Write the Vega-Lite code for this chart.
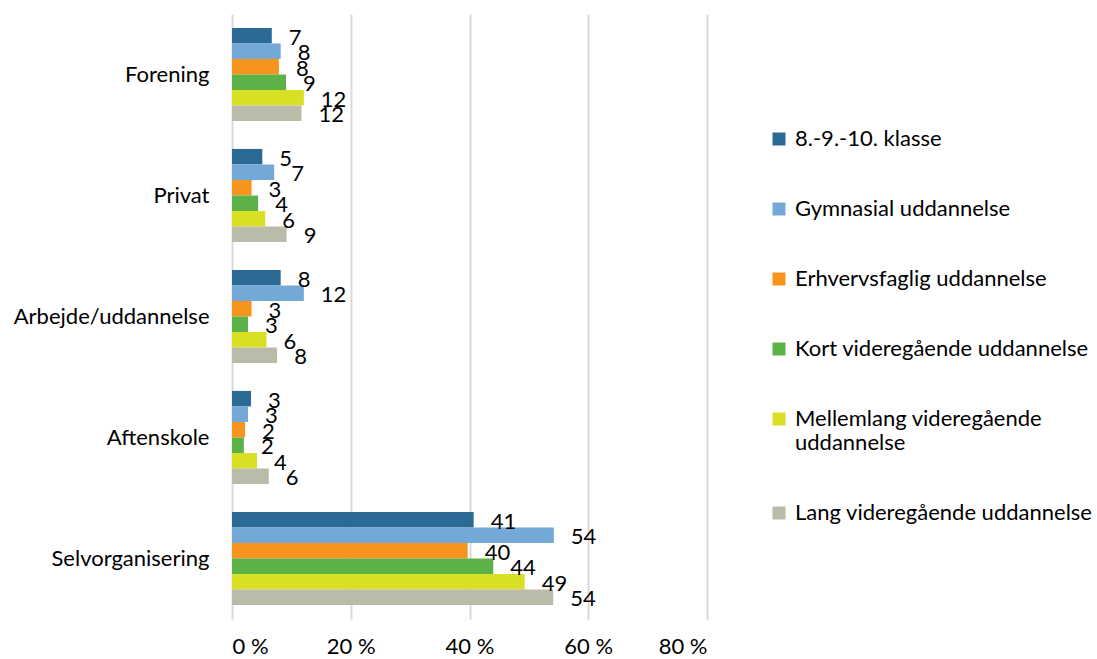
{
  "$schema": "https://vega.github.io/schema/vega-lite/v6.json",
  "autosize": "none",
  "width": 475,
  "height": 605,
  "padding": {"left": 232, "top": 14, "right": 390, "bottom": 40},
  "background": "white",
  "config": {
    "font": "Lato",
    "view": {"stroke": null},
    "axis": {"labelFont": "Lato", "labelColor": "#000000", "labelFontSize": 22},
    "legend": {"labelFont": "Lato", "labelColor": "#000000", "labelFontSize": 22}
  },
  "data": {
    "values": [
      {"kategori": "Forening", "serie": "8.-9.-10. klasse", "value": 6.7, "label": "7"},
      {"kategori": "Forening", "serie": "Gymnasial uddannelse", "value": 8.2, "label": "8"},
      {"kategori": "Forening", "serie": "Erhvervsfaglig uddannelse", "value": 7.9, "label": "8"},
      {"kategori": "Forening", "serie": "Kort videregående uddannelse", "value": 9.1, "label": "9"},
      {"kategori": "Forening", "serie": "Mellemlang videregående uddannelse", "value": 12.1, "label": "12"},
      {"kategori": "Forening", "serie": "Lang videregående uddannelse", "value": 11.7, "label": "12"},
      {"kategori": "Privat", "serie": "8.-9.-10. klasse", "value": 5.1, "label": "5"},
      {"kategori": "Privat", "serie": "Gymnasial uddannelse", "value": 7.1, "label": "7"},
      {"kategori": "Privat", "serie": "Erhvervsfaglig uddannelse", "value": 3.3, "label": "3"},
      {"kategori": "Privat", "serie": "Kort videregående uddannelse", "value": 4.4, "label": "4"},
      {"kategori": "Privat", "serie": "Mellemlang videregående uddannelse", "value": 5.6, "label": "6"},
      {"kategori": "Privat", "serie": "Lang videregående uddannelse", "value": 9.2, "label": "9"},
      {"kategori": "Arbejde/uddannelse", "serie": "8.-9.-10. klasse", "value": 8.2, "label": "8"},
      {"kategori": "Arbejde/uddannelse", "serie": "Gymnasial uddannelse", "value": 12.1, "label": "12"},
      {"kategori": "Arbejde/uddannelse", "serie": "Erhvervsfaglig uddannelse", "value": 3.3, "label": "3"},
      {"kategori": "Arbejde/uddannelse", "serie": "Kort videregående uddannelse", "value": 2.7, "label": "3"},
      {"kategori": "Arbejde/uddannelse", "serie": "Mellemlang videregående uddannelse", "value": 5.8, "label": "6"},
      {"kategori": "Arbejde/uddannelse", "serie": "Lang videregående uddannelse", "value": 7.6, "label": "8"},
      {"kategori": "Aftenskole", "serie": "8.-9.-10. klasse", "value": 3.2, "label": "3"},
      {"kategori": "Aftenskole", "serie": "Gymnasial uddannelse", "value": 2.7, "label": "3"},
      {"kategori": "Aftenskole", "serie": "Erhvervsfaglig uddannelse", "value": 2.2, "label": "2"},
      {"kategori": "Aftenskole", "serie": "Kort videregående uddannelse", "value": 2.0, "label": "2"},
      {"kategori": "Aftenskole", "serie": "Mellemlang videregående uddannelse", "value": 4.2, "label": "4"},
      {"kategori": "Aftenskole", "serie": "Lang videregående uddannelse", "value": 6.2, "label": "6"},
      {"kategori": "Selvorganisering", "serie": "8.-9.-10. klasse", "value": 40.7, "label": "41"},
      {"kategori": "Selvorganisering", "serie": "Gymnasial uddannelse", "value": 54.2, "label": "54"},
      {"kategori": "Selvorganisering", "serie": "Erhvervsfaglig uddannelse", "value": 39.7, "label": "40"},
      {"kategori": "Selvorganisering", "serie": "Kort videregående uddannelse", "value": 44.0, "label": "44"},
      {"kategori": "Selvorganisering", "serie": "Mellemlang videregående uddannelse", "value": 49.3, "label": "49"},
      {"kategori": "Selvorganisering", "serie": "Lang videregående uddannelse", "value": 54.1, "label": "54"}
    ]
  },
  "encoding": {
    "y": {
      "field": "kategori",
      "type": "nominal",
      "sort": ["Forening", "Privat", "Arbejde/uddannelse", "Aftenskole", "Selvorganisering"],
      "scale": {"paddingInner": 0.23, "paddingOuter": 0.115},
      "axis": {"title": null, "ticks": false, "domain": false, "labelPadding": 23, "labelLimit": 300}
    },
    "yOffset": {
      "field": "serie",
      "type": "nominal",
      "sort": ["8.-9.-10. klasse", "Gymnasial uddannelse", "Erhvervsfaglig uddannelse", "Kort videregående uddannelse", "Mellemlang videregående uddannelse", "Lang videregående uddannelse"],
      "scale": {"paddingInner": 0, "paddingOuter": 0}
    },
    "x": {
      "field": "value",
      "type": "quantitative",
      "scale": {"domain": [0, 80], "nice": false},
      "axis": {
        "title": null,
        "values": [0, 20, 40, 60, 80],
        "labelExpr": "datum.value + ' %'",
        "grid": true,
        "gridColor": "#d9d9d9",
        "gridWidth": 2,
        "domain": false,
        "ticks": false,
        "labelPadding": 17
      }
    }
  },
  "layer": [
    {
      "mark": {"type": "bar"},
      "encoding": {
        "color": {
          "field": "serie",
          "type": "nominal",
          "sort": ["8.-9.-10. klasse", "Gymnasial uddannelse", "Erhvervsfaglig uddannelse", "Kort videregående uddannelse", "Mellemlang videregående uddannelse", "Lang videregående uddannelse"],
          "scale": {
            "domain": ["8.-9.-10. klasse", "Gymnasial uddannelse", "Erhvervsfaglig uddannelse", "Kort videregående uddannelse", "Mellemlang videregående uddannelse", "Lang videregående uddannelse"],
            "range": ["#2a6a94", "#74a8d6", "#f7941e", "#5cb247", "#d7e022", "#bbbbaa"]
          },
          "legend": {
            "title": null,
            "orient": "none",
            "legendX": 536,
            "legendY": 114,
            "padding": 0,
            "symbolType": "square",
            "symbolSize": 169,
            "symbolStrokeWidth": 0,
            "labelOffset": 5,
            "labelLimit": 400,
            "rowPadding": 48,
            "labelExpr": "datum.label == 'Mellemlang videregående uddannelse' ? ['Mellemlang videregående', 'uddannelse'] : datum.label"
          }
        }
      }
    },
    {
      "mark": {"type": "text", "align": "left", "baseline": "middle", "dx": 17, "dy": 2, "fontSize": 22, "font": "Lato", "color": "#000000"},
      "encoding": {
        "text": {"field": "label", "type": "nominal"}
      }
    }
  ]
}
